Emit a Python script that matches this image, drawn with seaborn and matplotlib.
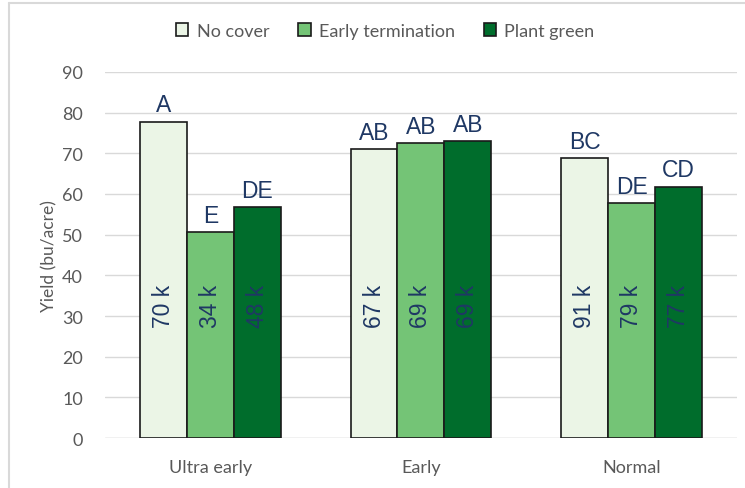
import pandas as pd
import numpy as np
import matplotlib.pyplot as plt
import seaborn as sns

# ------------------------------------------------------
# Data
# ------------------------------------------------------

timings = ["Ultra early", "Early", "Normal"]
treatments = ["No cover", "Early termination", "Plant green"]

no_cover = [77.8, 71.0, 68.8]
early_term = [50.6, 72.4, 57.8]
plant_green = [56.8, 73.0, 61.8]

letters_no_cover = ["A", "AB", "BC"]
letters_early_term = ["E", "AB", "DE"]
letters_plant_green = ["DE", "AB", "CD"]

stand_no_cover = ["70 k", "67 k", "91 k"]
stand_early_term = ["34 k", "69 k", "79 k"]
stand_plant_green = ["48 k", "69 k", "77 k"]

colors = ["#EBF5E6", "#74C476", "#006D2C"]

df = pd.DataFrame(
    {
        "Timing": timings * 3,
        "Treatment": np.repeat(treatments, 3),
        "Yield": no_cover + early_term + plant_green,
        "Letter": letters_no_cover + letters_early_term + letters_plant_green,
        "Stand": stand_no_cover + stand_early_term + stand_plant_green,
    }
)

# ------------------------------------------------------
# Plot
# ------------------------------------------------------

sns.set_style("white")
plt.rcParams["font.family"] = ["Lato", "DejaVu Sans"]

fig = plt.figure(figsize=(7.45, 4.89), dpi=100)
ax = fig.add_axes([0.141, 0.102, 0.848, 0.749])

sns.barplot(
    data=df,
    x="Timing",
    y="Yield",
    hue="Treatment",
    palette=colors,
    saturation=1,
    width=0.668,
    edgecolor="#1a1a1a",
    linewidth=1.2,
    ax=ax,
    zorder=3,
)

ax.set_ylim(0, 90)
ax.set_yticks(range(0, 91, 10))
ax.grid(axis="y", color="#d9d9d9", linewidth=1, zorder=0)
ax.set_xlabel("")
ax.set_ylabel("Yield (bu/acre)", color="#595959", fontsize=12.5, labelpad=3)
ax.tick_params(axis="y", colors="#595959", labelsize=13, length=0, pad=16)
ax.tick_params(axis="x", colors="#595959", labelsize=13, length=0, pad=15)
sns.despine(ax=ax, left=True, bottom=True)
ax.axhline(0, color="#d9d9d9", linewidth=1, zorder=1)

# letters and stand counts
label_color = "#1F3864"
for container, trt in zip(ax.containers, treatments):
    sub = df[df["Treatment"] == trt]
    for bar, letter, stand in zip(container, sub["Letter"], sub["Stand"]):
        cx = bar.get_x() + bar.get_width() / 2
        ax.text(cx, bar.get_height() + 1.3, letter, ha="center", va="bottom",
                fontsize=16.5, color=label_color, family="Liberation Sans")
        ax.text(cx, 32.5, stand, ha="center", va="center", rotation=90,
                fontsize=16.5, color=label_color, family="Liberation Sans", zorder=4)

handles, labels = ax.get_legend_handles_labels()
ax.get_legend().remove()
fig.legend(
    handles,
    labels,
    loc="center",
    bbox_to_anchor=(0.517, 0.935),
    ncol=3,
    frameon=False,
    fontsize=13,
    handlelength=0.7,
    handleheight=0.7,
    handletextpad=0.45,
    columnspacing=1.6,
    labelcolor="#595959",
)

# chart border (left and top only)
fig.add_artist(plt.Line2D([8.5 / 745, 8.5 / 745], [0, 1 - 4 / 489],
                          transform=fig.transFigure, color="#d9d9d9", linewidth=1.5))
fig.add_artist(plt.Line2D([8.5 / 745, 1], [1 - 4 / 489, 1 - 4 / 489],
                          transform=fig.transFigure, color="#d9d9d9", linewidth=1.5))

fig.savefig("out.png", dpi=100)
